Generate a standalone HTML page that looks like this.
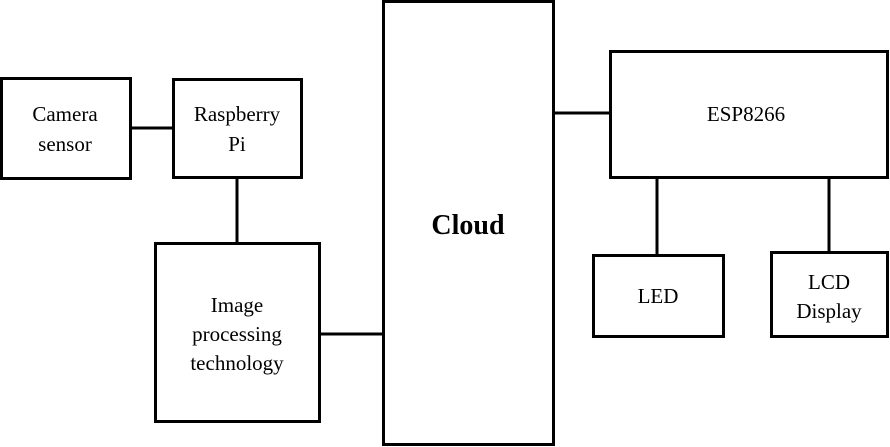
<!DOCTYPE html>
<html><head><style>body{margin:0;background:#fff}svg{display:block}</style></head><body>
<svg width="890" height="447" viewBox="0 0 890 447" xmlns="http://www.w3.org/2000/svg" font-family="Liberation Serif, serif" font-size="21" text-anchor="middle">
<g fill="none" stroke="#000" stroke-width="3">
<rect x="1.5" y="78.5" width="129" height="100"/>
<rect x="173.5" y="79.5" width="128" height="98"/>
<rect x="155.5" y="243.5" width="164" height="178"/>
<rect x="383.5" y="1.5" width="170" height="443"/>
<rect x="610.5" y="51.5" width="277" height="126"/>
<rect x="593.5" y="255.5" width="130" height="81"/>
<rect x="771.5" y="252.5" width="116" height="84"/>
<line x1="130" y1="128" x2="173" y2="128"/>
<line x1="237" y1="178" x2="237" y2="243"/>
<line x1="319" y1="334" x2="383" y2="334"/>
<line x1="553" y1="113" x2="610" y2="113"/>
<line x1="657" y1="178" x2="657" y2="255"/>
<line x1="829" y1="178" x2="829" y2="252"/>
</g>
<text x="65" y="121">Camera</text><text x="65" y="151">sensor</text>
<text x="237" y="121">Raspberry</text><text x="237" y="151">Pi</text>
<text x="237" y="312">Image</text><text x="237" y="341">processing</text><text x="237" y="370">technology</text>
<text x="468" y="234" font-size="28" font-weight="bold">Cloud</text>
<text x="746" y="121">ESP8266</text>
<text x="658" y="303">LED</text>
<text x="829" y="289">LCD</text><text x="829" y="318">Display</text>
</svg>
</body></html>
